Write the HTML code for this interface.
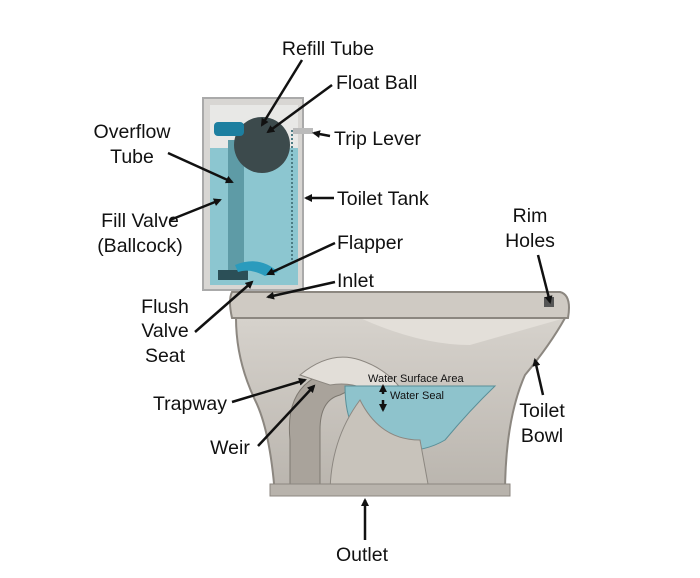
<!DOCTYPE html>
<html><head><style>
body{margin:0;background:#fff}
svg{display:block}
text{font-family:"Liberation Sans",sans-serif;fill:#111}
.l{font-size:19.5px}
.s{font-size:11px}
</style></head><body>
<svg width="700" height="578" viewBox="0 0 700 578">
<defs>
<marker id="a" markerWidth="8" markerHeight="8" refX="6" refY="4" orient="auto" markerUnits="userSpaceOnUse">
<path d="M0,0 L8,4 L0,8 Z" fill="#111"/></marker>
<linearGradient id="cer" x1="0" y1="0" x2="0" y2="1"><stop offset="0" stop-color="#d6d2cc"/><stop offset="1" stop-color="#b9b4ad"/></linearGradient>
</defs>
<path d="M236,318 L565,318 Q550,345 525,375 Q505,420 505,495 L275,495 Q270,430 255,400 Q236,360 236,318 Z" fill="url(#cer)" stroke="#8c8780" stroke-width="2"/>
<path d="M360,318 Q420,345 470,345 L565,318 Z" fill="#e3dfd9"/>
<path d="M290,495 L290,440 Q285,390 320,375 Q350,365 370,380 L340,395 Q320,400 320,430 L320,495 Z" fill="#a9a39b" stroke="#7d7870"/>
<path d="M300,375 Q330,350 360,360 Q390,370 405,395 L380,400 Q360,380 330,385 Z" fill="#e2ded8" stroke="#8c8780"/>
<path d="M345,386 L495,386 Q470,410 445,440 Q420,455 380,450 Q345,440 345,386 Z" fill="#8ec3cc" stroke="#5a8f98"/>
<path d="M360,400 Q380,440 420,440 L430,495 L330,495 Q330,440 360,400Z" fill="#c8c3bb" stroke="#8c8780"/>
<path d="M232,292 L560,292 Q572,295 568,318 L232,318 Q228,300 232,292 Z" fill="#cfcac3" stroke="#8c8780" stroke-width="2"/>
<rect x="544" y="297" width="10" height="10" fill="#555"/>
<rect x="270" y="484" width="240" height="12" fill="#b8b3ac" stroke="#8c8780"/>
<rect x="203" y="98" width="100" height="192" fill="#d8d6d3" stroke="#aaa" stroke-width="2"/>
<rect x="210" y="105" width="88" height="180" fill="#e8e8e6"/>
<rect x="210" y="148" width="88" height="137" fill="#8cc6d0"/>
<rect x="228" y="140" width="16" height="138" fill="#5e9ba6"/>
<rect x="218" y="270" width="30" height="10" fill="#2b4f57"/>
<circle cx="262" cy="145" r="28" fill="#3c4a4c"/>
<rect x="214" y="122" width="30" height="14" rx="4" fill="#1d7fa0"/>
<path d="M235,265 Q260,255 278,272 L265,276 Q250,268 238,272Z" fill="#2a9bbd"/>
<line x1="292" y1="130" x2="292" y2="260" stroke="#4d7c84" stroke-width="2" stroke-dasharray="2 2"/>
<rect x="293" y="128" width="20" height="6" fill="#bbb"/>
<g stroke="#111" stroke-width="2.5" fill="none" marker-end="url(#a)">
<line x1="302" y1="60" x2="262" y2="125"/>
<line x1="332" y1="85" x2="268" y2="132"/>
<line x1="330" y1="136" x2="314" y2="133"/>
<line x1="168" y1="153" x2="232" y2="182"/>
<line x1="334" y1="198" x2="306" y2="198"/>
<line x1="170" y1="220" x2="220" y2="200"/>
<line x1="335" y1="243" x2="268" y2="274"/>
<line x1="335" y1="282" x2="268" y2="297"/>
<line x1="195" y1="332" x2="252" y2="282"/>
<line x1="232" y1="402" x2="305" y2="380"/>
<line x1="258" y1="446" x2="314" y2="386"/>
<line x1="538" y1="255" x2="550" y2="302"/>
<line x1="543" y1="395" x2="535" y2="360"/>
<line x1="365" y1="540" x2="365" y2="500"/>
<line x1="383" y1="394" x2="383" y2="386"/>
<line x1="383" y1="400" x2="383" y2="410"/>
</g>
<text class="l" x="328" y="55" text-anchor="middle">Refill Tube</text>
<text class="l" x="336" y="89">Float Ball</text>
<text class="l" x="132" y="138" text-anchor="middle">Overflow</text>
<text class="l" x="132" y="163" text-anchor="middle">Tube</text>
<text class="l" x="334" y="145">Trip Lever</text>
<text class="l" x="337" y="205">Toilet Tank</text>
<text class="l" x="140" y="227" text-anchor="middle">Fill Valve</text>
<text class="l" x="140" y="252" text-anchor="middle">(Ballcock)</text>
<text class="l" x="337" y="249">Flapper</text>
<text class="l" x="530" y="222" text-anchor="middle">Rim</text>
<text class="l" x="530" y="247" text-anchor="middle">Holes</text>
<text class="l" x="337" y="287">Inlet</text>
<text class="l" x="165" y="313" text-anchor="middle">Flush</text>
<text class="l" x="165" y="337" text-anchor="middle">Valve</text>
<text class="l" x="165" y="362" text-anchor="middle">Seat</text>
<text class="l" x="190" y="410" text-anchor="middle">Trapway</text>
<text class="l" x="230" y="454" text-anchor="middle">Weir</text>
<text class="s" x="368" y="382">Water Surface Area</text>
<text class="s" x="390" y="399">Water Seal</text>
<text class="l" x="542" y="417" text-anchor="middle">Toilet</text>
<text class="l" x="542" y="442" text-anchor="middle">Bowl</text>
<text class="l" x="362" y="561" text-anchor="middle">Outlet</text>
</svg>
</body></html>
